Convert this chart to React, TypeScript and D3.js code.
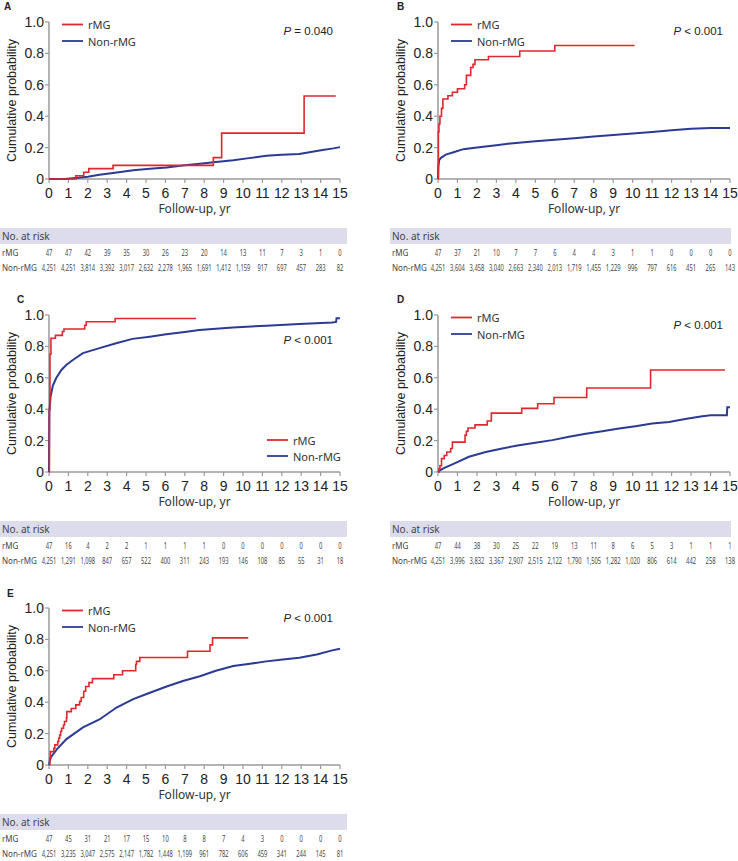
import React from 'react'
import * as d3 from 'd3'

// follow-up years and axis ticks
const years = d3.range(0, 16)
const yTicks = [0, 0.2, 0.4, 0.6, 0.8, 1.0]

// cumulative probability curves, [year, probability]
const curveA_rMG: [number, number][] = [[0, 0], [1.38, 0.021], [1.79, 0.043], [2.05, 0.066], [3.3, 0.087], [8.47, 0.136], [8.9, 0.292], [13.15, 0.529], [14.78, 0.529]]
const curveA_non: [number, number][] = [[0, 0], [0.8, 0], [1.5, 0.008], [2, 0.015], [2.6, 0.027], [3.5, 0.042], [4.34, 0.055], [5.2, 0.065], [6.06, 0.074], [7, 0.087], [7.78, 0.097], [8.6, 0.108], [9.5, 0.12], [10.3, 0.133], [11.2, 0.148], [12, 0.155], [12.9, 0.16], [13.5, 0.172], [14.1, 0.185], [14.66, 0.195], [15, 0.203]]

const curveB_rMG: [number, number][] = [[0, 0], [0.02, 0.3], [0.05, 0.35], [0.1, 0.4], [0.18, 0.45], [0.25, 0.51], [0.51, 0.53], [0.74, 0.553], [1.0, 0.575], [1.37, 0.6], [1.46, 0.66], [1.68, 0.71], [1.8, 0.73], [1.9, 0.76], [2.59, 0.78], [4.2, 0.815], [6.0, 0.85], [10.1, 0.85]]
const curveB_non: [number, number][] = [[0, 0], [0.02, 0.08], [0.06, 0.12], [0.15, 0.135], [0.4, 0.155], [0.8, 0.17], [1.3, 0.19], [2, 0.2], [3, 0.215], [4, 0.23], [5, 0.24], [6, 0.25], [7, 0.26], [8, 0.27], [9, 0.28], [10, 0.29], [11, 0.3], [12, 0.31], [13, 0.32], [14, 0.325], [15, 0.325]]

const curveC_rMG: [number, number][] = [[0, 0], [0.02, 0.4], [0.05, 0.75], [0.1, 0.852], [0.33, 0.87], [0.69, 0.895], [0.77, 0.911], [1.84, 0.935], [1.92, 0.957], [3.41, 0.978], [7.58, 0.978]]
const curveC_non: [number, number][] = [[0, 0], [0.02, 0.38], [0.08, 0.48], [0.2, 0.55], [0.38, 0.6], [0.64, 0.65], [0.9, 0.683], [1.3, 0.72], [1.75, 0.757], [2.6, 0.789], [3.46, 0.82], [4.3, 0.848], [5.2, 0.862], [6.04, 0.877], [7, 0.892], [7.75, 0.905], [9.47, 0.92], [11.2, 0.932], [12.9, 0.943], [14.6, 0.953], [14.8, 0.956], [14.82, 0.979], [15, 0.979]]

const curveD_rMG: [number, number][] = [[0, 0], [0.05, 0.02], [0.1, 0.04], [0.18, 0.085], [0.32, 0.105], [0.45, 0.127], [0.65, 0.15], [0.74, 0.19], [1.39, 0.235], [1.46, 0.26], [1.54, 0.28], [1.9, 0.3], [2.53, 0.325], [2.74, 0.375], [4.3, 0.405], [5.12, 0.435], [5.96, 0.475], [7.64, 0.535], [10.92, 0.65], [14.74, 0.65]]
const curveD_non: [number, number][] = [[0, 0], [0.1, 0.01], [0.3, 0.025], [0.74, 0.049], [1.59, 0.097], [2.45, 0.127], [3.3, 0.15], [4.16, 0.171], [5.0, 0.186], [5.87, 0.203], [6.73, 0.224], [7.59, 0.243], [8.44, 0.26], [9.3, 0.277], [10.15, 0.292], [11.0, 0.309], [11.87, 0.319], [12.7, 0.338], [13.58, 0.355], [14, 0.362], [14.84, 0.362], [14.86, 0.412], [15, 0.412]]

const curveE_rMG: [number, number][] = [[0, 0], [0.04, 0.043], [0.07, 0.085], [0.25, 0.107], [0.3, 0.128], [0.45, 0.15], [0.5, 0.17], [0.55, 0.19], [0.6, 0.213], [0.65, 0.234], [0.75, 0.255], [0.8, 0.277], [0.9, 0.3], [0.92, 0.34], [1.15, 0.36], [1.38, 0.383], [1.58, 0.405], [1.66, 0.43], [1.79, 0.47], [1.89, 0.5], [2.06, 0.525], [2.24, 0.55], [3.34, 0.575], [3.79, 0.6], [4.47, 0.64], [4.51, 0.66], [4.68, 0.685], [7.14, 0.725], [8.3, 0.765], [8.43, 0.81], [10.27, 0.81]]
const curveE_non: [number, number][] = [[0, 0], [0.05, 0.03], [0.1, 0.05], [0.4, 0.1], [0.9, 0.165], [1.75, 0.24], [2.6, 0.29], [3.48, 0.366], [4.34, 0.42], [5.2, 0.46], [6.06, 0.5], [6.9, 0.535], [7.78, 0.565], [8.6, 0.6], [9.5, 0.63], [10.36, 0.645], [11.2, 0.66], [12.05, 0.672], [12.9, 0.683], [13.8, 0.704], [14.6, 0.73], [15, 0.74]]

// numbers at risk
const riskA_rMG = [47, 47, 42, 39, 35, 30, 26, 23, 20, 14, 13, 11, 7, 3, 1, 0]
const riskA_non = [4251, 4251, 3814, 3392, 3017, 2632, 2278, 1965, 1691, 1412, 1159, 917, 697, 457, 283, 82]
const riskB_rMG = [47, 37, 21, 10, 7, 7, 6, 4, 4, 3, 1, 1, 0, 0, 0, 0]
const riskB_non = [4251, 3604, 3458, 3040, 2663, 2340, 2013, 1719, 1455, 1229, 996, 797, 616, 451, 265, 143]
const riskC_rMG = [47, 16, 4, 2, 2, 1, 1, 1, 1, 0, 0, 0, 0, 0, 0, 0]
const riskC_non = [4251, 1291, 1098, 847, 657, 522, 400, 311, 243, 193, 146, 108, 85, 55, 31, 18]
const riskD_rMG = [47, 44, 38, 30, 25, 22, 19, 13, 11, 8, 6, 5, 3, 1, 1, 1]
const riskD_non = [4251, 3996, 3832, 3367, 2907, 2515, 2122, 1790, 1505, 1282, 1020, 806, 614, 442, 258, 138]
const riskE_rMG = [47, 45, 31, 21, 17, 15, 10, 8, 8, 7, 4, 3, 0, 0, 0, 0]
const riskE_non = [4251, 3235, 3047, 2575, 2147, 1782, 1448, 1199, 961, 782, 606, 459, 341, 244, 145, 81]

const RED = '#e1262d'
const BLUE = '#2b3a93'
const GREY = '#9a9a9a'
const ARIAL = 'Liberation Sans, Arial, sans-serif'
const NOTO = 'Noto Sans, sans-serif'
const fmt = d3.format(',')

const cols = [
  { x0: 49, x1: 340, band: [0, 347] },
  { x0: 438, x1: 730, band: [390, 731] },
]
const rowTops = [22, 315, 608]
const H = 157

const panels = [
  { label: 'A', lx: 4, ly: 10, col: 0, row: 0, rMG: curveA_rMG, non: curveA_non, rr: riskA_rMG, rn: riskA_non, p: '= 0.040', pdy: 9, legend: 'top' },
  { label: 'B', lx: 397, ly: 10, col: 1, row: 0, rMG: curveB_rMG, non: curveB_non, rr: riskB_rMG, rn: riskB_non, p: '< 0.001', pdy: 9, legend: 'top' },
  { label: 'C', lx: 17, ly: 303, col: 0, row: 1, rMG: curveC_rMG, non: curveC_non, rr: riskC_rMG, rn: riskC_non, p: '< 0.001', pdy: 25, legend: 'bottom' },
  { label: 'D', lx: 397, ly: 303, col: 1, row: 1, rMG: curveD_rMG, non: curveD_non, rr: riskD_rMG, rn: riskD_non, p: '< 0.001', pdy: 10, legend: 'top' },
  { label: 'E', lx: 7, ly: 597, col: 0, row: 2, rMG: curveE_rMG, non: curveE_non, rr: riskE_rMG, rn: riskE_non, p: '< 0.001', pdy: 10, legend: 'top' },
]

function Panel(props: any) {
  const { label, lx, ly, col, row, rMG, non, rr, rn, p, pdy, legend } = props
  const c = cols[col]
  const top = rowTops[row]
  const bottom = top + H
  const x = d3.scaleLinear().domain([0, 15]).range([c.x0, c.x1])
  const y = d3.scaleLinear().domain([0, 1]).range([bottom, top])
  const step = d3.line<[number, number]>().x(d => x(d[0])).y(d => y(d[1])).curve(d3.curveStepAfter)
  const smooth = d3.line<[number, number]>().x(d => x(d[0])).y(d => y(d[1]))

  const lg = legend === 'top'
    ? { x: c.x0 + 13, y1: top + 2.5, y2: top + 19 }
    : { x: c.x0 + 218, y1: top + 125, y2: top + 141 }

  // the risk table uses a condensed face, squeeze the numbers horizontally
  const numText = (v: number, i: number, yy: number) => (
    <text key={i} transform={`translate(${x(years[i])},${yy}) scale(0.68,1)`} textAnchor="middle" dominantBaseline="central"
      fontSize={8.5} fontFamily={NOTO} fill="#444">{fmt(v)}</text>
  )

  return (
    <g>
      <text x={lx} y={ly} fontFamily={ARIAL} fontWeight="bold" fontSize={10} fill="#222">{label}</text>
      {/* axes */}
      <line x1={c.x0} x2={c.x0} y1={y(0)} y2={y(1)} stroke={GREY} strokeWidth={1.5} />
      <line x1={c.x0} x2={c.x1} y1={y(0)} y2={y(0)} stroke={GREY} strokeWidth={1.5} />
      {yTicks.map(t => (
        <g key={'y' + t}>
          <line x1={c.x0 - 4} x2={c.x0} y1={y(t)} y2={y(t)} stroke={GREY} strokeWidth={1.2} />
          <text x={c.x0 - 5} y={y(t)} textAnchor="end" dominantBaseline="central" fontFamily={ARIAL} fontSize={14} fill="#222">{t === 0 ? '0' : t.toFixed(1)}</text>
        </g>
      ))}
      {years.map(t => (
        <g key={'x' + t}>
          <line x1={x(t)} x2={x(t)} y1={bottom} y2={bottom + 4} stroke={GREY} strokeWidth={1.2} />
          <text x={x(t)} y={bottom + 14} textAnchor="middle" dominantBaseline="central" fontFamily={ARIAL} fontSize={14} fill="#222">{t}</text>
        </g>
      ))}
      <text transform={`translate(${c.x0 - 37},${(top + bottom) / 2}) rotate(-90)`} textAnchor="middle" dominantBaseline="central" fontFamily={ARIAL} fontSize={12.5} fill="#222">Cumulative probability</text>
      <text x={(c.x0 + c.x1) / 2} y={bottom + 29} textAnchor="middle" dominantBaseline="central" fontFamily={NOTO} fontSize={12} fill="#333">Follow-up, yr</text>

      {/* curves */}
      <path d={smooth(non) || ''} fill="none" stroke={BLUE} strokeWidth={2} />
      <path d={step(rMG) || ''} fill="none" stroke={RED} strokeWidth={1.6} />

      {/* legend */}
      <line x1={lg.x} x2={lg.x + 21} y1={lg.y1} y2={lg.y1} stroke={RED} strokeWidth={1.8} />
      <text x={lg.x + 26} y={lg.y1} dominantBaseline="central" fontFamily={NOTO} fontSize={11} fill="#333">rMG</text>
      <line x1={lg.x} x2={lg.x + 21} y1={lg.y2} y2={lg.y2} stroke={BLUE} strokeWidth={1.8} />
      <text x={lg.x + 26} y={lg.y2} dominantBaseline="central" fontFamily={NOTO} fontSize={11} fill="#333">Non-rMG</text>

      <text x={c.x1 - 7} y={top + pdy} textAnchor="end" dominantBaseline="central" fontFamily={ARIAL} fontSize={11.5} fill="#222">
        <tspan fontStyle="italic">P</tspan> {p}
      </text>

      {/* numbers at risk */}
      <rect x={c.band[0]} y={bottom + 49} width={c.band[1] - c.band[0]} height={16} fill="#dcdcec" />
      <text x={c.band[0] + 2} y={bottom + 57} dominantBaseline="central" fontFamily={NOTO} fontSize={10} fill="#444">No. at risk</text>
      <text x={c.band[0] + 2} y={bottom + 73} dominantBaseline="central" fontFamily={NOTO} fontSize={8} fill="#444">rMG</text>
      <text x={c.band[0] + 2} y={bottom + 88} dominantBaseline="central" fontFamily={NOTO} fontSize={8} fill="#444">Non-rMG</text>
      {rr.map((v: number, i: number) => numText(v, i, bottom + 73))}
      {rn.map((v: number, i: number) => numText(v, i, bottom + 88))}
    </g>
  )
}

export default function App() {
  return (
    <svg width={738} height={861} style={{ position: 'absolute', left: 0, top: 0, background: '#fff' }}>
      {panels.map(p => <Panel key={p.label} {...p} />)}
    </svg>
  )
}
